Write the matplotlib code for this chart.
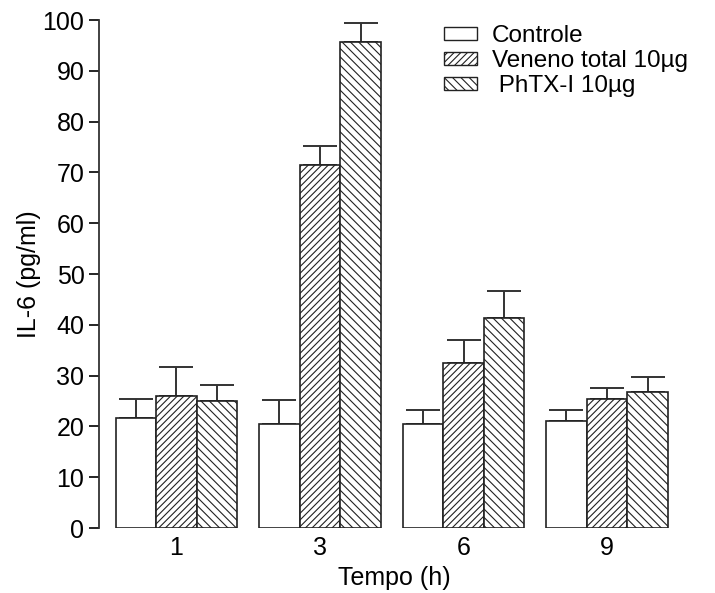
import numpy as np
import matplotlib
matplotlib.use('Agg')
import matplotlib.pyplot as plt
from matplotlib.patches import Patch

plt.rcParams['font.family'] = ['Liberation Sans', 'DejaVu Sans']
plt.rcParams['hatch.linewidth'] = 0.8

# IL-6 ao longo do tempo
tempos = ['1', '3', '6', '9']
controle = [21.6, 20.5, 20.5, 21.0]
controle_err = [3.8, 4.6, 2.8, 2.2]
veneno = [25.9, 71.4, 32.5, 25.4]
veneno_err = [5.8, 3.8, 4.6, 2.2]
phtx = [25.0, 95.7, 41.3, 26.8]
phtx_err = [3.2, 3.8, 5.4, 3.0]

nomes = ['Controle', 'Veneno total 10\u00b5g', ' PhTX-I 10\u00b5g']
hatches = ['', '/////', '\\\\\\\\']

fig = plt.figure(figsize=(7.15, 5.93), dpi=100)
ax = fig.add_axes([99 / 715, 65 / 593, 591 / 715, 508 / 593])

x = np.arange(len(tempos))
w = 0.283
series = [(controle, controle_err), (veneno, veneno_err), (phtx, phtx_err)]
for k, (vals, errs) in enumerate(series):
    pos = x + (k - 1) * w
    ax.bar(pos, vals, width=w, color='white', edgecolor='#222222',
           linewidth=1.2, hatch=hatches[k], zorder=2)
    ax.errorbar(pos, vals, yerr=[np.zeros(len(errs)), errs], fmt='none',
                ecolor='#333333', elinewidth=1.4, capsize=12.5,
                capthick=1.4, zorder=1)

ax.set_xlim(-0.54, 3.578)
ax.set_ylim(0, 100)
ax.set_yticks(np.arange(0, 101, 10))
ax.set_xticks(x)
ax.set_xticklabels(tempos)
ax.tick_params(axis='x', length=0, pad=6, labelsize=18)
ax.tick_params(axis='y', direction='out', length=7.5, width=1.2, pad=3, labelsize=18)

for s in ['top', 'right', 'bottom']:
    ax.spines[s].set_visible(False)
ax.spines['left'].set_linewidth(1.3)
ax.spines['left'].set_color('#333333')

ax.set_xlabel('Tempo (h)', fontsize=18, labelpad=4)
ax.set_ylabel('IL-6 (pg/ml)', fontsize=18)
ax.yaxis.set_label_coords(-0.098, 0.5)

handles = [Patch(facecolor='white', edgecolor='#222222', linewidth=1.0, hatch=h)
           for h in hatches]
ax.legend(handles, nomes, loc='upper left',
          bbox_to_anchor=(444 / 715, 1 - 25 / 593), bbox_transform=fig.transFigure,
          frameon=False, fontsize=17.5, borderpad=0, borderaxespad=0,
          handlelength=1.36, handleheight=0.44, handletextpad=0.6,
          labelspacing=0.12)

fig.savefig('out.png', dpi=100)
